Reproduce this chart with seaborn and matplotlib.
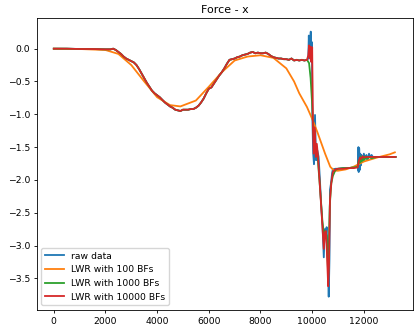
import matplotlib
matplotlib.use("Agg")
import matplotlib.pyplot as plt
import seaborn as sns
import pandas as pd

# ---- data ----
# shared smooth part (0 .. 9800), identical for raw data / 1000 BFs / 10000 BFs
base_x = [0, 500, 1000, 1500, 2000, 2200, 2300,
          2400, 2500, 2600, 2700, 2800, 2900, 3000, 3100, 3200, 3300,
          3400, 3500, 3600, 3700, 3800, 3900, 4000, 4100, 4200, 4300,
          4400, 4500, 4600, 4700, 4800, 4900, 5000, 5100, 5200, 5300,
          5400, 5500, 5600, 5700, 5800, 5900, 6000, 6100, 6200, 6300,
          6400, 6500, 6600, 6700, 6800, 6900, 7000, 7100, 7200, 7300,
          7400, 7500, 7600, 7700, 7800, 7900, 8000, 8100, 8200, 8300,
          8400, 8500, 8600, 8700, 8800, 8900, 9000, 9100, 9200, 9300,
          9400, 9500, 9600, 9700, 9800]
base_y = [0.0, 0.0, -0.005, -0.005, -0.01, -0.01, 0.0,
          -0.02, -0.05, -0.08, -0.12, -0.15, -0.17, -0.19, -0.21, -0.25, -0.31,
          -0.38, -0.45, -0.52, -0.58, -0.64, -0.68, -0.71, -0.74, -0.78, -0.82,
          -0.85, -0.88, -0.90, -0.93, -0.94, -0.95, -0.93, -0.93, -0.93, -0.92,
          -0.92, -0.90, -0.87, -0.82, -0.76, -0.68, -0.61, -0.59, -0.53, -0.47,
          -0.41, -0.36, -0.30, -0.23, -0.17, -0.16, -0.15, -0.13, -0.12, -0.10,
          -0.09, -0.08, -0.06, -0.05, -0.07, -0.06, -0.07, -0.07, -0.06, -0.08,
          -0.11, -0.13, -0.14, -0.15, -0.15, -0.16, -0.16, -0.17, -0.15, -0.18,
          -0.17, -0.18, -0.17, -0.18, -0.17]

raw_tail_x = [9850, 9870, 9890, 9920, 9945, 9965, 9990, 10010, 10040, 10070,
              10110, 10150, 10200, 10250, 10300, 10350, 10400, 10450, 10490, 10530,
              10560, 10600, 10640, 10670, 10690, 10730, 10770, 10800, 10900, 11000,
              11200, 11400, 11600, 11760, 11780, 11790, 11800, 11820, 11840, 11860,
              11880, 11900, 11950, 12000, 12050, 12100, 12150, 12200, 12250, 12300,
              12350, 12500, 13000, 13230]
raw_tail_y = [-0.15, 0.20, -0.05, 0.05, 0.26, -0.20, 0.10, -1.10, -1.60, -1.76,
              -1.01, -1.70, -1.55, -1.65, -2.00, -2.40, -2.70, -3.18, -2.75, -2.85,
              -2.72, -3.10, -3.78, -3.20, -2.15, -2.05, -1.90, -1.84, -1.83, -1.83,
              -1.82, -1.82, -1.81, -1.80, -1.85, -1.50, -1.88, -1.52, -1.85, -1.60,
              -1.78, -1.62, -1.70, -1.60, -1.68, -1.62, -1.70, -1.60, -1.66, -1.62,
              -1.65, -1.65, -1.65, -1.65]

lwr100_x = [0, 1000, 2000, 2500, 3000, 3500, 4000, 4500, 4900, 5500,
            6000, 6500, 7000, 7500, 8000, 8500, 9000, 9300, 9500, 9800,
            10000, 10200, 10500, 10700, 10850, 11000, 11300, 11600, 12000, 12500,
            13000, 13200]
lwr100_y = [0.0, -0.005, -0.02, -0.08, -0.25, -0.50, -0.74, -0.86, -0.88, -0.79,
            -0.58, -0.36, -0.18, -0.12, -0.10, -0.14, -0.30, -0.50, -0.68, -0.89,
            -1.07, -1.27, -1.60, -1.80, -1.86, -1.86, -1.84, -1.80, -1.72, -1.66,
            -1.61, -1.58]

lwr1000_tail_x = [9880, 9940, 10000, 10050, 10100, 10150, 10200, 10300, 10400, 10450,
                  10500, 10560, 10620, 10680, 10740, 10800, 10900, 11000, 11200, 11400,
                  11600, 11760, 11800, 11840, 11880, 11920, 11960, 12000, 12050, 12100,
                  12200, 12300, 12500, 13000, 13230]
lwr1000_tail_y = [-0.22, -0.45, -0.85, -1.30, -1.45, -1.55, -1.60, -2.10, -2.65, -2.80,
                  -2.78, -2.85, -3.45, -2.40, -2.05, -1.94, -1.85, -1.83, -1.82, -1.82,
                  -1.81, -1.80, -1.70, -1.74, -1.64, -1.72, -1.66, -1.70, -1.64, -1.68,
                  -1.65, -1.67, -1.65, -1.65, -1.65]

lwr10000_tail_x = [9850, 9880, 9910, 9940, 9970, 10000, 10030, 10060, 10100, 10140,
                   10180, 10220, 10300, 10380, 10450, 10490, 10530, 10560, 10620, 10650,
                   10690, 10740, 10800, 10900, 11000, 11200, 11400, 11600, 11760, 11800,
                   11850, 11900, 11950, 12000, 12100, 12200, 12300, 12500, 13000, 13230]
lwr10000_tail_y = [-0.10, 0.05, -0.15, 0.03, -0.20, 0.02, -1.20, -1.60, -1.20, -1.65,
                   -1.45, -1.62, -2.10, -2.60, -3.05, -2.80, -2.78, -3.00, -3.62, -3.30,
                   -2.30, -2.05, -1.88, -1.84, -1.83, -1.83, -1.82, -1.82, -1.81, -1.72,
                   -1.66, -1.68, -1.64, -1.66, -1.65, -1.65, -1.65, -1.65, -1.65, -1.65]

labels = ["raw data", "LWR with 100 BFs", "LWR with 1000 BFs", "LWR with 10000 BFs"]
colors = ["#1f77b4", "#ff7f0e", "#2ca02c", "#d62728"]

series = [
    (base_x + raw_tail_x, base_y + raw_tail_y),
    (lwr100_x, lwr100_y),
    (base_x + lwr1000_tail_x, base_y + lwr1000_tail_y),
    (base_x + lwr10000_tail_x, base_y + lwr10000_tail_y),
]

fs = 6.7
plt.rcParams.update({
    "font.size": fs,
    "axes.linewidth": 0.6,
    "xtick.major.size": 2.4,
    "ytick.major.size": 2.4,
    "xtick.major.width": 0.6,
    "ytick.major.width": 0.6,
    "xtick.major.pad": 2.5,
    "ytick.major.pad": 2.5,
})

fig = plt.figure(figsize=(4.19, 3.34), dpi=100)
ax = fig.add_axes([0.0876, 0.072, 0.8974, 0.873])

for (xs, ys), lab, col in zip(series, labels, colors):
    n = min(len(xs), len(ys))
    df = pd.DataFrame({"x": xs[:n], "y": ys[:n]})
    sns.lineplot(data=df, x="x", y="y", ax=ax, color=col, label=lab,
                 linewidth=1.3, estimator=None, sort=False)

ax.set_xlabel("")
ax.set_ylabel("")
ax.set_title("Force - x", fontsize=7.9, pad=4)
ax.set_xticks([0, 2000, 4000, 6000, 8000, 10000, 12000])
ax.set_yticks([0.0, -0.5, -1.0, -1.5, -2.0, -2.5, -3.0, -3.5])
ax.tick_params(labelsize=fs)
ax.legend(loc="lower left", fontsize=fs, handlelength=2.0, borderpad=0.4,
          labelspacing=0.5, handletextpad=0.8, framealpha=0.8)
fig.savefig("out.png", dpi=100)
